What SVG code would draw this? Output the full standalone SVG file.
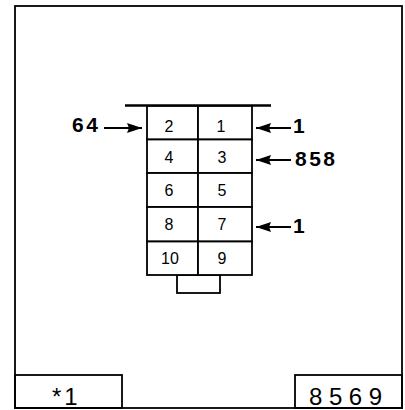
<svg xmlns="http://www.w3.org/2000/svg" width="405" height="410" viewBox="0 0 405 410">
<defs>
<style>
.frame{fill:none;stroke:#000;stroke-width:1.8}
.cell rect{fill:#fff;stroke:#000;stroke-width:1.8}
.num{font-family:"Liberation Sans",Arial,sans-serif;font-size:16px;text-anchor:middle;fill:#000}
.lbl{font-family:"Liberation Sans",Arial,sans-serif;font-size:21px;font-weight:bold;fill:#000;letter-spacing:2.5px}
.foot{font-family:"Liberation Sans",Arial,sans-serif;font-size:24px;fill:#000}
.conn{stroke:#000;stroke-width:2;fill:none;marker-end:url(#ah)}
</style>
<marker id="ah" markerUnits="userSpaceOnUse" markerWidth="16" markerHeight="11" refX="15" refY="5.5" orient="auto">
<path d="M0,0.5 L15,5.5 L0,10.5 L2,5.5 Z" fill="#000"/>
</marker>
</defs>
<rect width="405" height="410" fill="#fff"/>
<g id="frame">
<rect class="frame" x="15" y="6" width="387" height="402"/>
<rect class="frame" x="15" y="375" width="107" height="33"/>
<rect class="frame" x="295" y="375" width="107" height="33"/>
<text class="foot" x="52" y="405" letter-spacing="3">*1</text>
<text class="foot" x="309" y="405" font-size="26" textLength="73" lengthAdjust="spacing">8569</text>
</g>
<g id="connector-body">
<line x1="125" y1="105.5" x2="271" y2="105.5" stroke="#000" stroke-width="2.5"/>
<rect class="frame" x="177" y="275" width="43" height="18"/>
</g>
<g id="pin-2" class="cell"><rect x="147" y="106" width="51" height="33.5"/><text class="num" x="169" y="132">2</text></g>
<g id="pin-1" class="cell"><rect x="198" y="106" width="54" height="33.5"/><text class="num" x="221" y="132">1</text></g>
<g id="pin-4" class="cell"><rect x="147" y="139.5" width="51" height="33.5"/><text class="num" x="169" y="162.5">4</text></g>
<g id="pin-3" class="cell"><rect x="198" y="139.5" width="54" height="33.5"/><text class="num" x="222" y="162.5">3</text></g>
<g id="pin-6" class="cell"><rect x="147" y="173" width="51" height="34"/><text class="num" x="169" y="196">6</text></g>
<g id="pin-5" class="cell"><rect x="198" y="173" width="54" height="34"/><text class="num" x="222" y="196">5</text></g>
<g id="pin-8" class="cell"><rect x="147" y="207" width="51" height="34.5"/><text class="num" x="169" y="229.5">8</text></g>
<g id="pin-7" class="cell"><rect x="198" y="207" width="54" height="34.5"/><text class="num" x="222" y="229.5">7</text></g>
<g id="pin-10" class="cell"><rect x="147" y="241.5" width="51" height="33.5"/><text class="num" x="170" y="263.5">10</text></g>
<g id="pin-9" class="cell"><rect x="198" y="241.5" width="54" height="33.5"/><text class="num" x="222" y="263.5">9</text></g>
<g id="label-64"><text class="lbl" x="72" y="132">64</text></g>
<g id="label-1a"><text class="lbl" x="293" y="132.5">1</text></g>
<g id="label-858"><text class="lbl" x="295" y="165.5">858</text></g>
<g id="label-1b"><text class="lbl" x="293" y="233">1</text></g>
<g id="connectors">
<line class="conn" x1="104" y1="128" x2="142" y2="128"/>
<line class="conn" x1="291" y1="128" x2="256" y2="128"/>
<line class="conn" x1="291" y1="160" x2="256" y2="160"/>
<line class="conn" x1="291" y1="227" x2="256" y2="227"/>
</g>
</svg>
